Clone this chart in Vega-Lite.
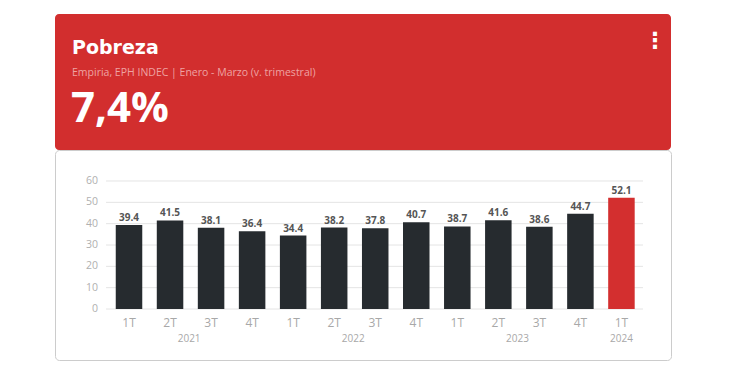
{
  "$schema": "https://vega.github.io/schema/vega-lite/v6.json",
  "background": "white",
  "padding": {"left": 54, "top": 14, "right": 0, "bottom": 0},
  "spacing": 0,
  "bounds": "flush",
  "config": {"view": {"stroke": null}, "font": "Open Sans"},
  "vconcat": [
    {
      "width": 616,
      "height": 136,
      "view": {"fill": "#d22e2e", "stroke": null, "cornerRadius": 4},
      "data": {"values": [{"titulo": "Pobreza", "fuente": "Empiria, EPH INDEC | Enero - Marzo (v. trimestral)", "valor": "7,4%"}]},
      "layer": [
        {
          "mark": {"type": "text", "align": "left", "baseline": "alphabetic", "font": "DejaVu Sans", "fontSize": 19, "fontWeight": "bold", "color": "white"},
          "encoding": {"text": {"field": "titulo"}, "x": {"value": 17}, "y": {"value": 40}}
        },
        {
          "mark": {"type": "text", "align": "left", "baseline": "alphabetic", "font": "Open Sans", "fontSize": 10.5, "color": "#eea3a3"},
          "encoding": {"text": {"field": "fuente"}, "x": {"value": 17}, "y": {"value": 62}}
        },
        {
          "mark": {"type": "text", "align": "left", "baseline": "alphabetic", "font": "Open Sans", "fontSize": 42, "fontWeight": "bold", "color": "white"},
          "encoding": {"text": {"field": "valor"}, "x": {"value": 16}, "y": {"value": 108}}
        },
        {
          "mark": {"type": "text", "align": "center", "baseline": "middle", "font": "DejaVu Sans", "fontSize": 22, "fontWeight": "bold", "color": "white", "text": "⋮"},
          "encoding": {"x": {"value": 600}, "y": {"value": 27}}
        }
      ]
    },
    {
      "width": 616,
      "height": 210,
      "view": {"fill": "white", "stroke": "#cccccc", "strokeWidth": 1, "cornerRadius": 4},
      "data": {"values": [
        {"periodo": "1T 2021", "trimestre": "1T", "anio": "2021", "pobreza": 39.4},
        {"periodo": "2T 2021", "trimestre": "2T", "anio": "2021", "pobreza": 41.5},
        {"periodo": "3T 2021", "trimestre": "3T", "anio": "2021", "pobreza": 38.1},
        {"periodo": "4T 2021", "trimestre": "4T", "anio": "2021", "pobreza": 36.4},
        {"periodo": "1T 2022", "trimestre": "1T", "anio": "2022", "pobreza": 34.4},
        {"periodo": "2T 2022", "trimestre": "2T", "anio": "2022", "pobreza": 38.2},
        {"periodo": "3T 2022", "trimestre": "3T", "anio": "2022", "pobreza": 37.8},
        {"periodo": "4T 2022", "trimestre": "4T", "anio": "2022", "pobreza": 40.7},
        {"periodo": "1T 2023", "trimestre": "1T", "anio": "2023", "pobreza": 38.7},
        {"periodo": "2T 2023", "trimestre": "2T", "anio": "2023", "pobreza": 41.6},
        {"periodo": "3T 2023", "trimestre": "3T", "anio": "2023", "pobreza": 38.6},
        {"periodo": "4T 2023", "trimestre": "4T", "anio": "2023", "pobreza": 44.7},
        {"periodo": "1T 2024", "trimestre": "1T", "anio": "2024", "pobreza": 52.1}
      ]},
      "layer": [
        {
          "data": {"values": [{"v": 0}, {"v": 10}, {"v": 20}, {"v": 30}, {"v": 40}, {"v": 50}, {"v": 60}]},
          "mark": {"type": "rule", "color": "#e4e4e4", "strokeWidth": 1},
          "encoding": {
            "y": {"field": "v", "type": "quantitative", "scale": {"domain": [-23.9, 74.53], "nice": false, "zero": false}},
            "x": {"datum": "1T 2021", "type": "nominal", "bandPosition": -0.366,
                  "scale": {"domain": ["1T 2021","2T 2021","3T 2021","4T 2021","1T 2022","2T 2022","3T 2022","4T 2022","1T 2023","2T 2023","3T 2023","4T 2023","1T 2024"], "range": [51, 588], "paddingInner": 0.354, "paddingOuter": 0.22, "align": 0.54}},
            "x2": {"datum": "1T 2024", "bandPosition": 1.313}
          }
        },
        {
          "data": {"values": [{"v": 0}, {"v": 10}, {"v": 20}, {"v": 30}, {"v": 40}, {"v": 50}, {"v": 60}]},
          "mark": {"type": "text", "align": "right", "baseline": "middle", "fontSize": 10.5, "color": "#b0b0b0", "font": "Open Sans"},
          "encoding": {
            "y": {"field": "v", "type": "quantitative"},
            "x": {"datum": "1T 2021", "type": "nominal", "bandPosition": -0.67},
            "text": {"field": "v", "type": "quantitative"}
          }
        },
        {
          "mark": {"type": "bar"},
          "encoding": {
            "x": {"field": "periodo", "type": "nominal",
                  "scale": {"domain": ["1T 2021","2T 2021","3T 2021","4T 2021","1T 2022","2T 2022","3T 2022","4T 2022","1T 2023","2T 2023","3T 2023","4T 2023","1T 2024"], "range": [51, 588], "paddingInner": 0.354, "paddingOuter": 0.22, "align": 0.54},
                  "axis": {"title": null, "offset": -51, "zindex": 1, "bandPosition": 0.5, "labelExpr": "split(datum.label, ' ')[0]", "labelAngle": 0, "labelAlign": "center", "ticks": false, "domain": false, "grid": false, "labelPadding": 13, "labelColor": "#a8a8a8", "labelFontSize": 12, "labelFont": "Open Sans"}},
            "y": {"field": "pobreza", "type": "quantitative", "stack": null,
                  "scale": {"domain": [-23.9, 74.53], "nice": false, "zero": false},
                  "axis": {"title": null, "labels": false, "grid": false, "domain": false, "ticks": false}},
            "y2": {"datum": 0},
            "color": {"condition": {"test": "datum.anio === '2024'", "value": "#d32f2f"}, "value": "#262b2f"}
          }
        },
        {
          "mark": {"type": "text", "baseline": "alphabetic", "dy": -4, "fontSize": 10, "fontWeight": "bold", "color": "#555555", "font": "Open Sans"},
          "encoding": {
            "x": {"field": "periodo", "type": "nominal"},
            "y": {"field": "pobreza", "type": "quantitative"},
            "text": {"field": "pobreza", "type": "quantitative", "format": ".1f"}
          }
        },
        {
          "transform": [{"filter": "datum.trimestre === '2T'"}],
          "mark": {"type": "text", "baseline": "middle", "fontSize": 10, "color": "#a8a8a8", "font": "Open Sans"},
          "encoding": {
            "x": {"field": "periodo", "type": "nominal", "bandPosition": 1.22},
            "y": {"datum": -14.06, "type": "quantitative"},
            "text": {"field": "anio"}
          }
        },
        {
          "transform": [{"filter": "datum.anio === '2024'"}],
          "mark": {"type": "text", "baseline": "middle", "fontSize": 10, "color": "#a8a8a8", "font": "Open Sans"},
          "encoding": {
            "x": {"field": "periodo", "type": "nominal", "bandPosition": 0.5},
            "y": {"datum": -14.06, "type": "quantitative"},
            "text": {"field": "anio"}
          }
        }
      ]
    }
  ]
}
